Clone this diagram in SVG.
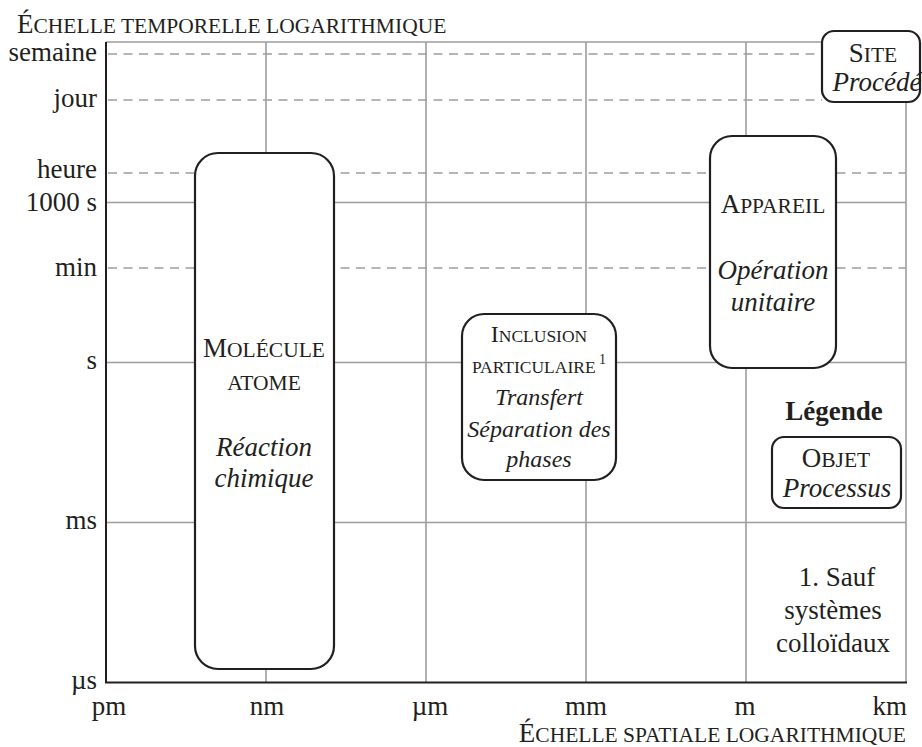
<svg xmlns="http://www.w3.org/2000/svg" width="922" height="747" viewBox="0 0 922 747">
<style>
text{font-family:"Liberation Serif","Times New Roman",serif;fill:#231f20;font-size:27px}
.sc{font-size:21.5px}
.it{font-style:italic}
.b{font-weight:bold}
.sup{font-size:14px}
.ib text{font-size:24px}
.ib .sc{font-size:17.5px}
.grid{stroke:#9d9d9d;stroke-width:1.6;fill:none}
.dash{stroke:#9d9d9d;stroke-width:1.6;stroke-dasharray:9 6.5;fill:none}
.axis{stroke:#231f20;stroke-width:2;fill:none}
.box{fill:#fff;stroke:#231f20;stroke-width:2.2}
.m{text-anchor:middle}
.e{text-anchor:end}
</style>
<rect width="922" height="747" fill="#fff"/>
<g id="grid">
<line class="grid" x1="106" y1="42" x2="822" y2="42"/>
<line class="grid" x1="906" y1="102" x2="906" y2="682"/>
<line class="grid" x1="266" y1="42" x2="266" y2="682"/>
<line class="grid" x1="426" y1="42" x2="426" y2="682"/>
<line class="grid" x1="586" y1="42" x2="586" y2="682"/>
<line class="grid" x1="746" y1="42" x2="746" y2="682"/>
<line class="grid" x1="106" y1="202.5" x2="906" y2="202.5"/>
<line class="grid" x1="106" y1="362.5" x2="906" y2="362.5"/>
<line class="grid" x1="106" y1="522.5" x2="906" y2="522.5"/>
<line class="dash" x1="108" y1="54" x2="822" y2="54"/>
<line class="dash" x1="108" y1="100" x2="822" y2="100"/>
<line class="dash" x1="108" y1="173" x2="906" y2="173"/>
<line class="dash" x1="108" y1="268" x2="906" y2="268"/>
</g>
<g id="axes">
<line class="axis" x1="106" y1="42" x2="106" y2="683"/>
<line class="axis" x1="105" y1="682.5" x2="907" y2="682.5"/>
<text x="17" y="33"><tspan>É</tspan><tspan class="sc">CHELLE TEMPORELLE LOGARITHMIQUE</tspan></text>
<text class="e" x="906" y="742"><tspan>É</tspan><tspan class="sc">CHELLE SPATIALE LOGARITHMIQUE</tspan></text>
<text class="e" x="97" y="61">semaine</text>
<text class="e" x="97" y="107">jour</text>
<text class="e" x="97" y="178">heure</text>
<text class="e" x="97" y="211">1000 s</text>
<text class="e" x="97" y="276">min</text>
<text class="e" x="97" y="369">s</text>
<text class="e" x="97" y="529">ms</text>
<text class="e" x="97" y="689">µs</text>
<text class="m" x="109" y="715">pm</text>
<text class="m" x="267" y="715">nm</text>
<text class="m" x="430" y="715">µm</text>
<text class="m" x="586" y="715">mm</text>
<text class="m" x="745" y="715">m</text>
<text class="e" x="907" y="715">km</text>
</g>
<g id="molecule">
<rect class="box" x="195" y="153" width="139" height="516" rx="23"/>
<text class="m" x="264" y="357"><tspan>M</tspan><tspan class="sc">OLÉCULE</tspan></text>
<text class="m sc" x="264" y="390">ATOME</text>
<text class="m it" x="264" y="456">Réaction</text>
<text class="m it" x="264" y="487">chimique</text>
</g>
<g id="inclusion" class="ib">
<rect class="box" x="462" y="314" width="154" height="166" rx="22"/>
<text class="m" x="539" y="342"><tspan>I</tspan><tspan class="sc">NCLUSION</tspan></text>
<text class="m" x="539" y="373"><tspan class="sc">PARTICULAIRE</tspan><tspan class="sup" dy="-9"> 1</tspan></text>
<text class="m it" x="539" y="405">Transfert</text>
<text class="m it" x="539" y="437">Séparation des</text>
<text class="m it" x="539" y="467">phases</text>
</g>
<g id="appareil">
<rect class="box" x="710" y="136" width="126" height="232" rx="22"/>
<text class="m" x="773" y="213"><tspan>A</tspan><tspan class="sc">PPAREIL</tspan></text>
<text class="m it" x="773" y="279">Opération</text>
<text class="m it" x="773" y="311">unitaire</text>
</g>
<g id="site">
<rect class="box" x="822" y="31" width="98" height="71" rx="12"/>
<text class="m" x="873" y="62"><tspan>S</tspan><tspan class="sc">ITE</tspan></text>
<text class="m it" x="877" y="91">Procédé</text>
</g>
<g id="legende">
<text class="m b" x="834" y="420">Légende</text>
<rect class="box" x="772" y="437" width="129" height="71" rx="12"/>
<text class="m" x="836" y="467"><tspan>O</tspan><tspan class="sc">BJET</tspan></text>
<text class="m it" x="837" y="497">Processus</text>
</g>
<g id="note">
<text class="m" x="837" y="586">1. Sauf</text>
<text class="m" x="833" y="619">systèmes</text>
<text class="m" x="833" y="652">colloïdaux</text>
</g>
</svg>
